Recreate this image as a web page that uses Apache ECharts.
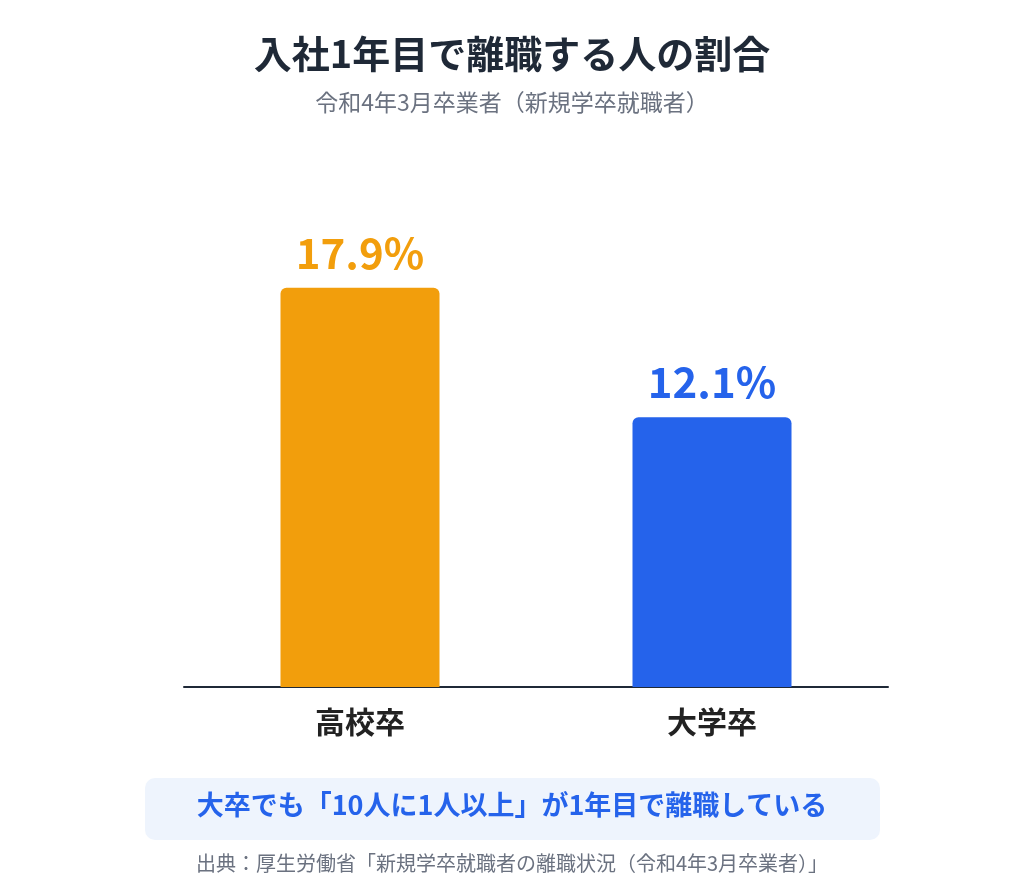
<!DOCTYPE html>
<html>
<head>
<meta charset="utf-8">
<script src="https://cdn.jsdelivr.net/npm/echarts@6/dist/echarts.min.js"></script>
<style>html,body{margin:0;padding:0;background:#fff}#main{width:1024px;height:896px}</style>
</head>
<body>
<div id="main"></div>
<script>
var categories = ['高校卒', '大学卒'];
var values = [17.9, 12.1];
var barColors = ['#f29e0c', '#2563eb'];

var font = '"Noto Sans CJK JP", "Noto Sans", sans-serif';
var chart = echarts.init(document.getElementById('main'));

var option = {
  backgroundColor: '#fff',
  textStyle: { fontFamily: font },
  title: {
    text: '入社1年目で離職する人の割合',
    subtext: '令和4年3月卒業者（新規学卒就職者）',
    left: 'center',
    top: 30,
    itemGap: 18,
    textStyle: { fontSize: 38, fontWeight: 'bold', color: '#1f2937', fontFamily: font },
    subtextStyle: { fontSize: 23, color: '#6b7280', fontFamily: font }
  },
  grid: { left: 184, right: 136, top: 241, bottom: 209 },
  xAxis: {
    type: 'category',
    data: categories,
    axisTick: { show: false },
    axisLine: { lineStyle: { color: '#1f2937', width: 2 } },
    axisLabel: { fontSize: 30, fontWeight: 'bold', color: '#222', margin: 20, fontFamily: font }
  },
  yAxis: {
    type: 'value', min: 0, max: 20,
    show: false, splitLine: { show: false }
  },
  series: [{
    type: 'bar',
    barWidth: 159,
    data: values.map(function (v, i) {
      return {
        value: v,
        itemStyle: { color: barColors[i], borderRadius: [6, 6, 0, 0] },
        label: { color: barColors[i] }
      };
    }),
    label: {
      show: true, position: 'top', distance: 14,
      fontSize: 42, fontWeight: 'bold', fontFamily: font,
      formatter: function (p) { return p.value.toFixed(1) + '%'; }
    }
  }],
  graphic: [
    {
      type: 'rect',
      shape: { x: 145, y: 778, width: 735, height: 62, r: 10 },
      style: { fill: '#eef4fd' }
    },
    {
      type: 'text', left: 'center', top: 791,
      style: { text: '大卒でも「10人に1人以上」が1年目で離職している', fontSize: 27, fontWeight: 'bold', fill: '#2563eb', fontFamily: font }
    },
    {
      type: 'text', left: 'center', top: 853,
      style: { text: '出典：厚生労働省「新規学卒就職者の離職状況（令和4年3月卒業者）」', fontSize: 20, fill: '#6b7280', fontFamily: font }
    }
  ]
};

chart.setOption(option);
</script>
</body>
</html>
